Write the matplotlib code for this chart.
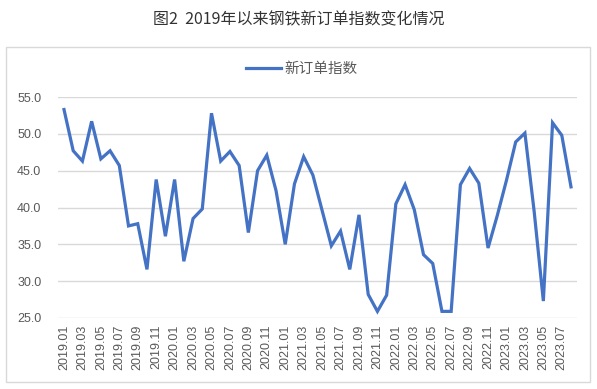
import matplotlib.pyplot as plt
from matplotlib.patches import Rectangle

# monthly new-order index, 2019.01 - 2023.08
months = [f"{y}.{m:02d}" for y in range(2019, 2024) for m in range(1, 13)][:56]
values = [
    53.3, 47.7, 46.3, 51.7, 46.6, 47.7, 45.7, 37.5, 37.8, 31.6, 43.8, 36.1,
    43.8, 32.7, 38.5, 39.8, 52.8, 46.3, 47.6, 45.7, 36.6, 45.0, 47.1, 42.3,
    35.0, 43.2, 46.9, 44.4, 39.6, 34.8, 36.8, 31.6, 39.0, 28.2, 25.9, 28.1,
    40.5, 43.1, 39.7, 33.6, 32.4, 25.9, 25.9, 43.1, 45.3, 43.3, 34.5, 38.9,
    43.7, 48.9, 50.1, 39.5, 27.3, 51.5, 49.8, 42.8,
]
yticks = [25.0, 30.0, 35.0, 40.0, 45.0, 50.0, 55.0]

plt.rcParams['font.family'] = ['Liberation Sans', 'Noto Sans CJK SC']

fig = plt.figure(figsize=(5.97, 3.89), dpi=100)
W, H = 597, 389

# chart frame
fig.patches.append(Rectangle((6 / W, 1 - 382 / H), 584 / W, 335 / H,
                             transform=fig.transFigure, fill=False,
                             edgecolor="#d9d9d9", linewidth=1.0))

fig.text(0.5, 1 - 20 / H, "图2  2019年以来钢铁新订单指数变化情况",
         ha="center", va="center", fontsize=11.5, color="#333333",
         family=["Noto Sans CJK SC", "DejaVu Sans"])

ax = fig.add_axes([58 / W, 1 - 318 / H, 519 / W, 221 / H])
x = list(range(len(values)))
ax.plot(x, values, color="#4472C4", linewidth=2.3, label="新订单指数",
        solid_joinstyle="miter")

ax.set_xlim(-0.65, len(values) - 1 + 0.65)
ax.set_ylim(25, 55)
ax.set_yticks(yticks)
ax.set_yticklabels([f"{v:.1f}" for v in yticks])
ax.set_xticks(x[::2])
ax.set_xticklabels(months[::2], rotation=90)
ax.grid(axis="y", color="#d9d9d9", linewidth=1.0)
ax.set_axisbelow(True)
for s in ax.spines.values():
    s.set_visible(False)
ax.tick_params(axis="both", length=0, colors="#595959", labelsize=9)
ax.tick_params(axis="y", pad=12)
ax.tick_params(axis="x", pad=5)

# legend centred on the figure, not on the axes
leg = ax.legend(loc="center", bbox_to_anchor=((302 - 58) / 519, 1 + (97 - 69) / 221),
                frameon=False, handlelength=2.4, handletextpad=0.2,
                prop={"family": ["Noto Sans CJK SC"], "size": 10.5})
for t in leg.get_texts():
    t.set_color("#595959")

fig.savefig("out.png", dpi=100)
